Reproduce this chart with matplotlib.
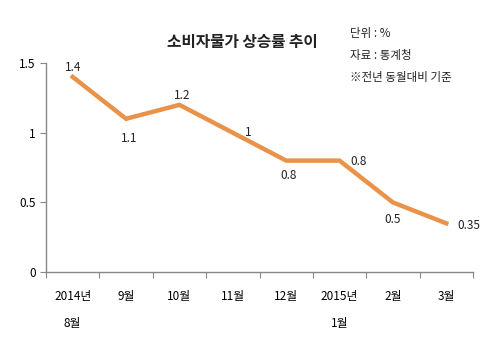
import numpy as np
import matplotlib
matplotlib.use("Agg")
import matplotlib.pyplot as plt

plt.rcParams['font.family'] = ['Noto Sans CJK KR', 'DejaVu Sans']

months = ["2014년\n8월", "9월", "10월", "11월", "12월", "2015년\n1월", "2월", "3월"]
cpi = [1.4, 1.1, 1.2, 1, 0.8, 0.8, 0.5, 0.35]
cpi_labels = ["1.4", "1.1", "1.2", "1", "0.8", "0.8", "0.5", "0.35"]
# label offsets in points (dx, dy)
offsets = [(0, 7), (2, -14), (2, 7), (11, 0), (2, -11), (14, -1), (0, -12), (16, -1.5)]

fig = plt.figure(figsize=(5, 3.6), dpi=100)
ax = fig.add_axes([0.092, 0.244, 0.854, 0.581])

x = np.arange(len(cpi))
ax.plot(x, cpi, color="#E9934A", lw=3.2, solid_joinstyle="miter")

for xi, v, lab, (dx, dy) in zip(x, cpi, cpi_labels, offsets):
    ax.annotate(lab, (xi, v), xytext=(dx, dy), textcoords="offset points",
                ha="center", va="center", fontsize=8.5, color="#222222")

ax.set_xlim(-0.5, len(cpi) - 0.5)
ax.set_ylim(0, 1.5)
ax.set_yticks([0, 0.5, 1, 1.5])
ax.set_yticklabels(["0", "0.5", "1", "1.5"])
ax.set_xticks(np.arange(-0.5, len(cpi)), minor=False)
ax.set_xticklabels([])
ax.set_xticks(x, minor=True)
ax.set_xticklabels(months, minor=True, linespacing=2.35, va="top")
ax.tick_params(axis="x", which="minor", length=0, pad=13, labelsize=8.5)
ax.tick_params(axis="x", which="major", length=4, color="#888888", direction="out")
ax.tick_params(axis="y", length=4, color="#888888", labelsize=8.5, pad=3.5)

for s in ["top", "right"]:
    ax.spines[s].set_visible(False)
for s in ["left", "bottom"]:
    ax.spines[s].set_color("#888888")
    ax.spines[s].set_linewidth(1)

fig.text(0.484, 0.883, "소비자물가 상승률 추이", ha="center", va="center",
         fontsize=11.3, fontweight="bold", color="#222222")
fig.text(0.70, 0.908, "단위 : %", fontsize=8.3, va="center", color="#222222")
fig.text(0.70, 0.847, "자료 : 통계청", fontsize=8.3, va="center", color="#222222")
fig.text(0.70, 0.786, "※전년 동월대비 기준", fontsize=8.3, va="center", color="#222222")

fig.savefig("out.png", dpi=100)
